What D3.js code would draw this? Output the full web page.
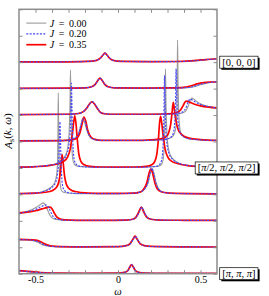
<!DOCTYPE html>
<html>
<head>
<meta charset="utf-8">
<script src="https://cdn.jsdelivr.net/npm/d3@7"></script>
<style>
body { margin: 0; background: #fff; }
svg text { font-family: "Liberation Serif", "DejaVu Serif", serif; }
</style>
</head>
<body>
<div id="chart"></div>
<script>
// coupling values of the three series
var seriesNames = ["0.00", "0.20", "0.35"];
// vertical offset of each k point (0 = [pi,pi,pi] ... 8 = [0,0,0])
var kOffsets = [0, 1, 2, 3, 4, 5, 6, 7, 8];
var kLabels = [[0, "[π, π, π]"], [4, "[π/2, π/2, π/2]"], [8, "[0, 0, 0]"]];
var xTicks = [-0.5, -0.4, -0.3, -0.2, -0.1, 0, 0.1, 0.2, 0.3, 0.4, 0.5];
var xTickLabels = [-0.5, 0, 0.5];
var yTicks = [0, 1, 2, 3, 4, 5, 6, 7, 8, 9, 10];

// [omega, A], one list per k point
var spectraJ000 = [
  [[-0.6,0.1],[-0.56,0.085],[-0.52,0.06],[-0.47,0.035],[-0.4,0.02],[-0.2,0.015],[0,0.02],[0.04,0.05],[0.06,0.12],[0.074,0.27],[0.083,0.34],[0.092,0.27],[0.106,0.12],[0.125,0.05],[0.16,0.025],[0.3,0.015],[0.6,0.01]],
  [[-0.6,0.28],[-0.55,0.28],[-0.52,0.26],[-0.49,0.2],[-0.46,0.1],[-0.43,0.05],[-0.38,0.025],[-0.2,0.015],[0,0.025],[0.05,0.06],[0.075,0.14],[0.092,0.3],[0.105,0.42],[0.118,0.3],[0.135,0.14],[0.16,0.06],[0.2,0.03],[0.4,0.015],[0.6,0.01]],
  [[-0.6,0.26],[-0.56,0.34],[-0.52,0.43],[-0.49,0.53],[-0.47,0.62],[-0.453,0.68],[-0.44,0.6],[-0.425,0.38],[-0.41,0.18],[-0.39,0.08],[-0.36,0.04],[-0.3,0.02],[-0.1,0.02],[0.05,0.03],[0.09,0.06],[0.11,0.13],[0.128,0.32],[0.144,0.52],[0.16,0.32],[0.178,0.13],[0.2,0.06],[0.25,0.03],[0.4,0.02],[0.6,0.015]],
  [[-0.6,0.03],[-0.5,0.05],[-0.44,0.15],[-0.41,0.25],[-0.39,0.38],[-0.378,0.55],[-0.37,0.85],[-0.366,1.4],[-0.364,2.4],[-0.362,3.84],[-0.36,2.7],[-0.357,1.4],[-0.353,0.6],[-0.347,0.25],[-0.34,0.12],[-0.32,0.06],[-0.25,0.03],[0,0.03],[0.1,0.05],[0.14,0.1],[0.165,0.22],[0.183,0.45],[0.197,0.82],[0.207,0.99],[0.217,0.82],[0.232,0.42],[0.255,0.14],[0.28,0.07],[0.35,0.035],[0.6,0.02]],
  [[-0.6,0.03],[-0.5,0.05],[-0.42,0.1],[-0.37,0.18],[-0.34,0.3],[-0.318,0.48],[-0.304,0.8],[-0.296,1.4],[-0.291,2.4],[-0.288,3.7],[-0.285,2.5],[-0.282,1.2],[-0.277,0.5],[-0.27,0.22],[-0.26,0.11],[-0.24,0.06],[-0.15,0.03],[0,0.025],[0.15,0.03],[0.24,0.06],[0.26,0.11],[0.27,0.22],[0.277,0.5],[0.282,1.2],[0.285,2.5],[0.288,3.75],[0.291,2.4],[0.296,1.4],[0.304,0.8],[0.318,0.48],[0.34,0.3],[0.37,0.18],[0.42,0.1],[0.5,0.05],[0.6,0.03]],
  [[-0.6,0.02],[-0.35,0.03],[-0.29,0.06],[-0.26,0.13],[-0.24,0.3],[-0.226,0.6],[-0.214,0.86],[-0.202,0.72],[-0.188,0.4],[-0.168,0.15],[-0.14,0.07],[-0.1,0.04],[0.1,0.04],[0.25,0.06],[0.3,0.1],[0.325,0.16],[0.342,0.3],[0.352,0.6],[0.357,1.3],[0.359,2.5],[0.361,3.84],[0.364,2.2],[0.368,1.1],[0.373,0.6],[0.378,0.37],[0.39,0.22],[0.41,0.14],[0.43,0.1],[0.5,0.06],[0.6,0.04]],
  [[-0.6,0.02],[-0.3,0.03],[-0.24,0.06],[-0.21,0.13],[-0.19,0.26],[-0.172,0.42],[-0.157,0.51],[-0.142,0.42],[-0.124,0.25],[-0.105,0.1],[-0.08,0.05],[-0.03,0.03],[0.15,0.03],[0.3,0.035],[0.36,0.05],[0.39,0.08],[0.41,0.15],[0.425,0.33],[0.438,0.56],[0.447,0.64],[0.46,0.6],[0.48,0.5],[0.51,0.4],[0.55,0.32],[0.6,0.26]],
  [[-0.6,0.01],[-0.3,0.015],[-0.2,0.03],[-0.16,0.07],[-0.138,0.16],[-0.121,0.32],[-0.109,0.4],[-0.097,0.32],[-0.08,0.16],[-0.06,0.07],[-0.02,0.03],[0.15,0.02],[0.35,0.025],[0.42,0.035],[0.46,0.07],[0.49,0.13],[0.52,0.18],[0.56,0.23],[0.6,0.25]],
  [[-0.6,0.01],[-0.3,0.015],[-0.18,0.03],[-0.13,0.07],[-0.105,0.16],[-0.09,0.28],[-0.079,0.34],[-0.068,0.28],[-0.053,0.16],[-0.03,0.07],[0.02,0.03],[0.2,0.02],[0.38,0.025],[0.45,0.045],[0.5,0.07],[0.55,0.1],[0.6,0.12]]
];

var spectraJ020 = [
  [[-0.6,0.11],[-0.56,0.09],[-0.52,0.065],[-0.47,0.038],[-0.4,0.02],[-0.2,0.015],[0,0.02],[0.04,0.05],[0.06,0.12],[0.074,0.27],[0.083,0.34],[0.092,0.27],[0.106,0.12],[0.125,0.05],[0.16,0.025],[0.3,0.015],[0.6,0.01]],
  [[-0.6,0.29],[-0.54,0.28],[-0.51,0.26],[-0.48,0.2],[-0.45,0.1],[-0.42,0.05],[-0.37,0.025],[-0.2,0.015],[0,0.025],[0.05,0.06],[0.075,0.14],[0.092,0.3],[0.105,0.42],[0.118,0.3],[0.135,0.14],[0.16,0.06],[0.2,0.03],[0.4,0.015],[0.6,0.01]],
  [[-0.6,0.28],[-0.55,0.35],[-0.5,0.43],[-0.47,0.52],[-0.45,0.58],[-0.435,0.6],[-0.422,0.52],[-0.407,0.32],[-0.392,0.15],[-0.37,0.07],[-0.34,0.035],[-0.3,0.02],[-0.1,0.02],[0.05,0.03],[0.09,0.06],[0.11,0.13],[0.127,0.32],[0.143,0.52],[0.159,0.32],[0.177,0.13],[0.2,0.06],[0.25,0.03],[0.4,0.02],[0.6,0.015]],
  [[-0.6,0.03],[-0.5,0.05],[-0.44,0.13],[-0.41,0.22],[-0.39,0.33],[-0.375,0.5],[-0.365,0.85],[-0.358,1.5],[-0.354,2.3],[-0.352,2.74],[-0.349,2.2],[-0.345,1.2],[-0.34,0.55],[-0.333,0.25],[-0.32,0.12],[-0.3,0.06],[-0.25,0.035],[0,0.03],[0.1,0.05],[0.14,0.1],[0.163,0.22],[0.181,0.45],[0.195,0.82],[0.205,0.99],[0.215,0.82],[0.23,0.42],[0.253,0.14],[0.28,0.07],[0.35,0.035],[0.6,0.02]],
  [[-0.6,0.03],[-0.5,0.05],[-0.42,0.1],[-0.37,0.17],[-0.335,0.3],[-0.312,0.5],[-0.298,0.85],[-0.289,1.5],[-0.285,2.4],[-0.282,3.2],[-0.279,2.3],[-0.275,1.2],[-0.27,0.55],[-0.262,0.24],[-0.25,0.12],[-0.23,0.06],[-0.15,0.03],[0,0.025],[0.15,0.03],[0.23,0.06],[0.25,0.12],[0.262,0.24],[0.27,0.55],[0.275,1.2],[0.279,2.4],[0.282,3.5],[0.285,2.5],[0.289,1.5],[0.298,0.85],[0.312,0.5],[0.335,0.3],[0.37,0.17],[0.42,0.1],[0.5,0.05],[0.6,0.03]],
  [[-0.6,0.02],[-0.35,0.03],[-0.29,0.06],[-0.26,0.13],[-0.238,0.3],[-0.224,0.62],[-0.211,0.88],[-0.199,0.74],[-0.185,0.4],[-0.165,0.15],[-0.14,0.07],[-0.1,0.04],[0.1,0.04],[0.25,0.06],[0.3,0.1],[0.322,0.17],[0.336,0.33],[0.344,0.75],[0.349,1.6],[0.352,2.76],[0.355,2.0],[0.36,1.1],[0.366,0.6],[0.374,0.38],[0.39,0.22],[0.41,0.14],[0.45,0.09],[0.5,0.06],[0.6,0.04]],
  [[-0.6,0.02],[-0.3,0.03],[-0.24,0.06],[-0.21,0.13],[-0.19,0.26],[-0.172,0.42],[-0.156,0.51],[-0.141,0.42],[-0.123,0.25],[-0.104,0.1],[-0.08,0.05],[-0.03,0.03],[0.15,0.03],[0.3,0.035],[0.35,0.05],[0.38,0.09],[0.4,0.16],[0.415,0.32],[0.427,0.52],[0.435,0.6],[0.45,0.57],[0.47,0.49],[0.5,0.4],[0.55,0.32],[0.6,0.26]],
  [[-0.6,0.01],[-0.3,0.015],[-0.2,0.03],[-0.16,0.07],[-0.138,0.16],[-0.121,0.32],[-0.109,0.4],[-0.097,0.32],[-0.08,0.16],[-0.06,0.07],[-0.02,0.03],[0.15,0.02],[0.35,0.025],[0.41,0.035],[0.45,0.07],[0.48,0.13],[0.51,0.18],[0.55,0.23],[0.6,0.255]],
  [[-0.6,0.01],[-0.3,0.015],[-0.18,0.03],[-0.13,0.07],[-0.105,0.16],[-0.09,0.28],[-0.079,0.34],[-0.068,0.28],[-0.053,0.16],[-0.03,0.07],[0.02,0.03],[0.2,0.02],[0.37,0.025],[0.44,0.045],[0.49,0.07],[0.54,0.1],[0.6,0.125]]
];

var spectraJ035 = [
  [[-0.6,0.12],[-0.56,0.1],[-0.52,0.075],[-0.47,0.045],[-0.4,0.025],[-0.2,0.015],[0,0.02],[0.04,0.05],[0.06,0.12],[0.073,0.27],[0.082,0.34],[0.091,0.27],[0.105,0.12],[0.125,0.05],[0.16,0.025],[0.3,0.015],[0.6,0.01]],
  [[-0.6,0.3],[-0.52,0.28],[-0.49,0.26],[-0.46,0.18],[-0.43,0.09],[-0.4,0.045],[-0.35,0.025],[-0.2,0.015],[0,0.025],[0.05,0.06],[0.073,0.14],[0.09,0.3],[0.103,0.42],[0.116,0.3],[0.133,0.14],[0.16,0.06],[0.2,0.03],[0.4,0.015],[0.6,0.01]],
  [[-0.6,0.3],[-0.55,0.33],[-0.5,0.38],[-0.46,0.45],[-0.43,0.5],[-0.412,0.52],[-0.398,0.44],[-0.385,0.28],[-0.37,0.14],[-0.35,0.07],[-0.32,0.035],[-0.25,0.02],[-0.1,0.02],[0.05,0.03],[0.09,0.06],[0.108,0.13],[0.125,0.32],[0.141,0.52],[0.157,0.32],[0.175,0.13],[0.2,0.06],[0.25,0.03],[0.4,0.02],[0.6,0.015]],
  [[-0.6,0.03],[-0.5,0.045],[-0.44,0.08],[-0.4,0.14],[-0.375,0.25],[-0.36,0.45],[-0.35,0.8],[-0.344,1.2],[-0.339,1.5],[-0.333,1.25],[-0.325,0.75],[-0.315,0.42],[-0.3,0.24],[-0.28,0.15],[-0.25,0.1],[-0.2,0.06],[-0.1,0.04],[0,0.035],[0.1,0.05],[0.14,0.1],[0.158,0.22],[0.175,0.45],[0.189,0.82],[0.199,0.97],[0.209,0.82],[0.224,0.42],[0.248,0.14],[0.28,0.07],[0.35,0.035],[0.6,0.02]],
  [[-0.6,0.03],[-0.5,0.05],[-0.42,0.09],[-0.37,0.15],[-0.33,0.25],[-0.305,0.42],[-0.29,0.7],[-0.278,1.2],[-0.268,1.75],[-0.262,1.97],[-0.255,1.7],[-0.247,1.1],[-0.238,0.55],[-0.225,0.25],[-0.205,0.12],[-0.17,0.06],[-0.1,0.035],[0,0.03],[0.1,0.035],[0.17,0.06],[0.205,0.12],[0.223,0.25],[0.236,0.55],[0.245,1.1],[0.252,1.7],[0.258,1.95],[0.264,1.75],[0.274,1.2],[0.286,0.7],[0.301,0.42],[0.326,0.25],[0.37,0.15],[0.42,0.09],[0.5,0.05],[0.6,0.03]],
  [[-0.6,0.02],[-0.35,0.03],[-0.28,0.06],[-0.25,0.12],[-0.232,0.3],[-0.218,0.65],[-0.207,0.92],[-0.196,0.78],[-0.183,0.42],[-0.163,0.16],[-0.14,0.08],[-0.1,0.04],[0.1,0.04],[0.2,0.06],[0.26,0.1],[0.29,0.18],[0.305,0.3],[0.318,0.6],[0.327,1.05],[0.335,1.48],[0.342,1.2],[0.352,0.75],[0.365,0.45],[0.38,0.3],[0.4,0.2],[0.43,0.13],[0.5,0.07],[0.6,0.04]],
  [[-0.6,0.02],[-0.3,0.03],[-0.24,0.06],[-0.21,0.13],[-0.19,0.26],[-0.173,0.42],[-0.158,0.5],[-0.143,0.42],[-0.125,0.25],[-0.106,0.1],[-0.08,0.05],[-0.03,0.03],[0.15,0.03],[0.28,0.04],[0.33,0.06],[0.36,0.11],[0.38,0.2],[0.395,0.36],[0.407,0.5],[0.417,0.53],[0.43,0.5],[0.46,0.42],[0.5,0.35],[0.55,0.3],[0.6,0.27]],
  [[-0.6,0.01],[-0.3,0.015],[-0.2,0.03],[-0.16,0.07],[-0.138,0.16],[-0.121,0.32],[-0.109,0.4],[-0.097,0.32],[-0.08,0.16],[-0.06,0.07],[-0.02,0.03],[0.15,0.02],[0.32,0.025],[0.38,0.035],[0.42,0.07],[0.45,0.12],[0.48,0.18],[0.52,0.23],[0.56,0.25],[0.6,0.26]],
  [[-0.6,0.01],[-0.3,0.015],[-0.18,0.03],[-0.13,0.07],[-0.105,0.16],[-0.09,0.28],[-0.079,0.34],[-0.068,0.28],[-0.053,0.16],[-0.03,0.07],[0.02,0.03],[0.2,0.02],[0.35,0.025],[0.42,0.04],[0.48,0.07],[0.53,0.1],[0.6,0.13]]
];

var margin = {top: 9.3, right: 52, bottom: 22, left: 19},
    width = 269 - margin.left - margin.right,
    height = 296 - margin.top - margin.bottom - 0.3;

var root = d3.select("#chart")
    .append("svg")
    .attr("width", 269)
    .attr("height", 296);

var svg = root.append("g")
    .attr("transform", "translate(" + margin.left + "," + margin.top + ")");

var x = d3.scaleLinear().domain([-0.6, 0.6]).range([0, width]);
var y = d3.scaleLinear().domain([0, 10]).range([height, 0]);

svg.append("clipPath").attr("id", "plot-clip")
    .append("rect").attr("width", width).attr("height", height);

// gray first, red, then the dotted blue on top (as in the picture)
var series = [
    {data: spectraJ000, color: "#9a9a9a", width: 1.1, dash: null},
    {data: spectraJ035, color: "#ff0000", width: 1.7, dash: null},
    {data: spectraJ020, color: "#4646ff", width: 1.15, dash: "2,1.4"}
];

var curves = svg.append("g").attr("clip-path", "url(#plot-clip)");

series.forEach(function (s) {
    s.data.forEach(function (pts, i) {
        var line = d3.line()
            .x(d => x(d[0]))
            .y(d => y(kOffsets[i] + d[1]))
            .curve(d3.curveMonotoneX);
        curves.append("path")
            .datum(pts)
            .attr("d", line)
            .attr("fill", "none")
            .attr("stroke", s.color)
            .attr("stroke-width", s.width)
            .attr("stroke-dasharray", s.dash)
            .attr("stroke-linejoin", "round");
    });
});

// axes, ticks pointing inward
var axisColor = "#8c8c8c";
var fmt = d => d === 0 ? "0" : d3.format(".1f")(d).replace("−", "-");

function styleAxis(g) {
    g.select(".domain").remove();
    g.selectAll(".tick line").attr("stroke", axisColor).attr("stroke-width", 1);
    g.selectAll(".tick text").attr("fill", "#000").style("font-size", "10px");
}

svg.append("g")
    .attr("transform", "translate(0," + height + ")")
    .call(d3.axisBottom(x).tickValues(xTicks).tickSizeInner(-3.5).tickSizeOuter(0).tickPadding(2)
        .tickFormat(d => xTickLabels.includes(d) ? fmt(d) : ""))
    .call(styleAxis);

svg.append("g")
    .call(d3.axisTop(x).tickValues(xTicks).tickSizeInner(-3.5).tickSizeOuter(0).tickFormat(""))
    .call(styleAxis);

svg.append("g")
    .call(d3.axisLeft(y).tickValues(yTicks).tickSizeInner(-3.5).tickSizeOuter(0).tickFormat(""))
    .call(styleAxis);

svg.append("g")
    .attr("transform", "translate(" + width + ",0)")
    .call(d3.axisRight(y).tickValues(yTicks).tickSizeInner(-3.5).tickSizeOuter(0).tickFormat(""))
    .call(styleAxis);

svg.append("rect")
    .attr("width", width)
    .attr("height", height)
    .attr("fill", "none")
    .attr("stroke", axisColor)
    .attr("stroke-width", 1.5);

// axis titles
root.append("text")
    .attr("x", margin.left + x(0))
    .attr("y", 294.8)
    .attr("text-anchor", "middle")
    .style("font-size", "10.5px")
    .style("font-style", "italic")
    .text("ω");

var ylab = root.append("text")
    .attr("transform", "translate(12,131) rotate(-90)")
    .attr("text-anchor", "middle")
    .style("font-size", "11px");
ylab.append("tspan").style("font-style", "italic").text("A");
ylab.append("tspan").attr("dy", "0.25em").style("font-size", "8px").text("s");
ylab.append("tspan").attr("dy", "-0.25em").text("(");
ylab.append("tspan").style("font-style", "italic").text("k");
ylab.append("tspan").text(", ");
ylab.append("tspan").style("font-style", "italic").text("ω");
ylab.append("tspan").text(")");

// legend
var legendY = [13.8, 24.6, 35.4];
var legendStyle = [series[0], series[2], series[1]];
seriesNames.forEach(function (name, i) {
    var g = svg.append("g").attr("transform", "translate(7.3," + legendY[i] + ")");
    g.append("line")
        .attr("x1", 0).attr("x2", 20)
        .attr("stroke", legendStyle[i].color)
        .attr("stroke-width", legendStyle[i].width)
        .attr("stroke-dasharray", legendStyle[i].dash);
    var t = g.append("text").attr("x", 23.5).attr("dy", "0.35em").style("font-size", "10px");
    t.append("tspan").style("font-style", "italic").text("J");
    t.append("tspan").attr("dx", 4.5).text("=");
    t.append("tspan").attr("dx", 4.5).text(name);
});

// k point labels in shadowed boxes
kLabels.forEach(function (kl) {
    var cy = margin.top + y(kl[0]);
    var g = root.append("g");
    var shadow = g.append("rect");
    var box = g.append("rect");
    var t = g.append("text").attr("dy", "0.33em").style("font-size", "10.5px");
    var parts = kl[1].split("π");
    parts.forEach(function (p, j) {
        if (j > 0) t.append("tspan").style("font-style", "italic").text("π");
        if (p) t.append("tspan").text(p);
    });
    var tw = t.node().getComputedTextLength();
    var bw = tw + 5, bh = 12, right = 258;
    t.attr("x", right - bw + 2.5).attr("y", cy);
    box.attr("x", right - bw).attr("y", cy - bh / 2).attr("width", bw).attr("height", bh)
        .attr("fill", "#fff").attr("stroke", "#000").attr("stroke-width", 0.7);
    shadow.attr("x", right - bw + 1.6).attr("y", cy - bh / 2 + 1.6).attr("width", bw).attr("height", bh)
        .attr("fill", "#000");
});
</script>
</body>
</html>
